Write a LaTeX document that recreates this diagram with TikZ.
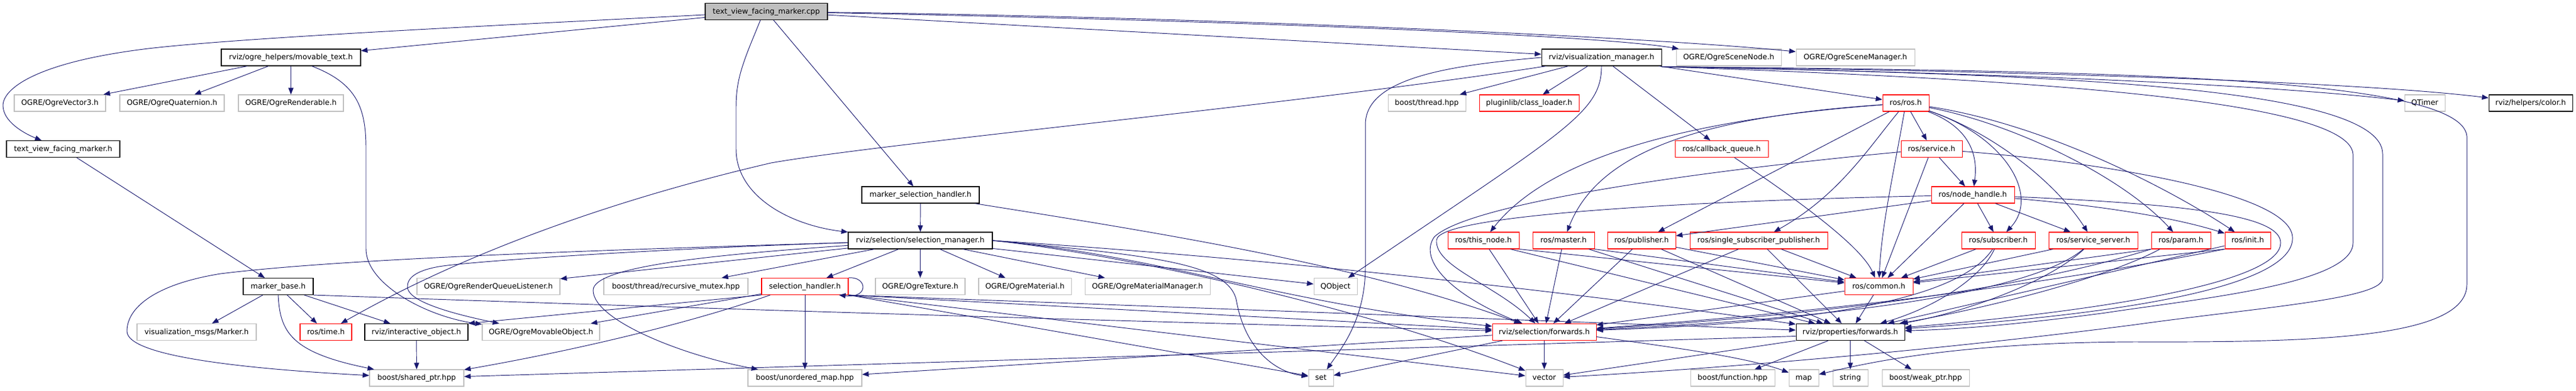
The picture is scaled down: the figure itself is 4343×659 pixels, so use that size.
\documentclass[tikz,border=0pt]{standalone}
\usepackage{fontspec}
\setmainfont{DejaVu Sans}
\usetikzlibrary{arrows.meta}
\definecolor{edgec}{HTML}{191970}
\definecolor{grayb}{HTML}{BFBFBF}
\definecolor{redb}{HTML}{FF0000}
\newcommand\mkbox[6]{\node[#1, minimum width=#5pt] (#2) at (#3,#4) {#6};}
\begin{document}
\begin{tikzpicture}[x=1pt,y=-1pt,
 nbox/.style={draw, line width=1.05pt, fill=white, minimum height=28pt, inner sep=0pt,
   text height=9.5pt, text depth=2.5pt, font=\fontsize{12.5}{15}\selectfont},
 bbox/.style={nbox, draw=black},
 rbox/.style={nbox, draw=redb},
 gbox/.style={nbox, draw=grayb},
 fbox/.style={nbox, draw=black, fill=grayb},
 dep/.style={draw=edgec, line width=0.95pt, -{Triangle[length=11pt,width=8.5pt]}}]
\fill[white] (0,0) rectangle (4343,659);
\path[use as bounding box] (0,0) rectangle (4343,659);

% ---------- nodes ----------
\mkbox{fbox}{cpp}{1292}{19.5}{206}{text\_view\_facing\_marker.cpp}
\mkbox{bbox}{movtext}{490.5}{97}{235}{rviz/ogre\_helpers/movable\_text.h}
\mkbox{bbox}{vizmgr}{2700}{97}{202}{rviz/visualization\_manager.h}
\mkbox{gbox}{scenenode}{2914.5}{97}{177}{OGRE/OgreSceneNode.h}
\mkbox{gbox}{scenemgr}{3128}{97}{200}{OGRE/OgreSceneManager.h}
\mkbox{gbox}{vecthree}{101}{174}{154}{OGRE/OgreVector3.h}
\mkbox{gbox}{quat}{290}{174}{176}{OGRE/OgreQuaternion.h}
\mkbox{gbox}{rend}{490.5}{174}{177}{OGRE/OgreRenderable.h}
\mkbox{gbox}{thread}{2405.5}{174}{131}{boost/thread.hpp}
\mkbox{rbox}{classloader}{2578}{174}{168}{pluginlib/class\_loader.h}
\mkbox{rbox}{rosh}{3213}{174}{78}{ros/ros.h}
\mkbox{gbox}{qtimer}{4088}{174}{68}{QTimer}
\mkbox{bbox}{color}{4266.5}{174}{141}{rviz/helpers/color.h}
\mkbox{bbox}{tvfmh}{106.5}{251.5}{191}{text\_view\_facing\_marker.h}
\mkbox{rbox}{cbq}{2902.5}{251.5}{157}{ros/callback\_queue.h}
\mkbox{rbox}{service}{3256.5}{251.5}{103}{ros/service.h}
\mkbox{bbox}{msh}{1552}{329}{198}{marker\_selection\_handler.h}
\mkbox{rbox}{nodehandle}{3326}{329}{140}{ros/node\_handle.h}
\mkbox{bbox}{selmgr}{1551.5}{406}{243}{rviz/selection/selection\_manager.h}
\mkbox{rbox}{thisnode}{2501}{406}{120}{ros/this\_node.h}
\mkbox{rbox}{master}{2636}{406}{104}{ros/master.h}
\mkbox{rbox}{publisher}{2767.5}{406}{115}{ros/publisher.h}
\mkbox{rbox}{ssp}{2965}{406}{232}{ros/single\_subscriber\_publisher.h}
\mkbox{rbox}{subscriber}{3369}{406}{124}{ros/subscriber.h}
\mkbox{rbox}{srvserver}{3529}{406}{150}{ros/service\_server.h}
\mkbox{rbox}{param}{3677}{406}{100}{ros/param.h}
\mkbox{rbox}{init}{3789.5}{406}{77}{ros/init.h}
\mkbox{bbox}{markerbase}{469}{483.5}{118}{marker\_base.h}
\mkbox{gbox}{rqlistener}{823.5}{483.5}{241}{OGRE/OgreRenderQueueListener.h}
\mkbox{gbox}{recmutex}{1139.5}{483.5}{243}{boost/thread/recursive\_mutex.hpp}
\mkbox{rbox}{selhandler}{1357}{483.5}{146}{selection\_handler.h}
\mkbox{gbox}{texture}{1551.5}{483.5}{151}{OGRE/OgreTexture.h}
\mkbox{gbox}{material}{1728}{483.5}{156}{OGRE/OgreMaterial.h}
\mkbox{gbox}{matmgr}{1934.5}{483.5}{211}{OGRE/OgreMaterialManager.h}
\mkbox{gbox}{qobject}{2251.5}{483.5}{73}{QObject}
\mkbox{rbox}{common}{3167.5}{483.5}{115}{ros/common.h}
\mkbox{gbox}{markermsg}{331.5}{560.5}{201}{visualization\_msgs/Marker.h}
\mkbox{rbox}{rostime}{549.5}{560.5}{87}{ros/time.h}
\mkbox{bbox}{interactive}{702}{560.5}{174}{rviz/interactive\_object.h}
\mkbox{gbox}{movable}{912}{560.5}{198}{OGRE/OgreMovableObject.h}
\mkbox{rbox}{selfwd}{2603.5}{560.5}{175}{rviz/selection/forwards.h}
\mkbox{bbox}{propfwd}{3119.5}{560.5}{183}{rviz/properties/forwards.h}
\mkbox{gbox}{sharedptr}{702.5}{638}{159}{boost/shared\_ptr.hpp}
\mkbox{gbox}{unordered}{1357}{638}{192}{boost/unordered\_map.hpp}
\mkbox{gbox}{set}{2227}{638}{42}{set}
\mkbox{gbox}{vector}{2603.5}{638}{63}{vector}
\mkbox{gbox}{function}{2921}{638}{142}{boost/function.hpp}
\mkbox{gbox}{map}{3041}{638}{50}{map}
\mkbox{gbox}{string}{3119.5}{638}{59}{string}
\mkbox{gbox}{weakptr}{3246.5}{638}{147}{boost/weak\_ptr.hpp}

% ---------- edges: text_view_facing_marker.cpp ----------
\draw[dep] (cpp) .. controls (900,40) and (420,62) .. (250,82) .. controls (60,105) and (5,150) .. (5,178) .. controls (5,205) and (40,225) .. (tvfmh);
\draw[dep] (cpp) -- (movtext);
\draw[dep] (cpp) -- (vizmgr);
\draw[dep] (cpp) .. controls (2100,35) and (2700,60) .. (scenenode);
\draw[dep] (cpp) .. controls (2000,28) and (2750,60) .. (scenemgr);
\draw[dep] ([xshift=-10pt]cpp.south) .. controls (1255,100) and (1241,130) .. (1241,180) -- (1241,252) .. controls (1241,330) and (1330,380) .. (selmgr);
\draw[dep] (cpp) -- (msh);

% ---------- text_view_facing_marker.h / movable_text.h ----------
\draw[dep] (tvfmh) -- (markerbase);
\draw[dep] (movtext) -- (vecthree);
\draw[dep] (movtext) -- (quat);
\draw[dep] (movtext) -- (rend);
\draw[dep] ([xshift=35pt]movtext.south) .. controls (600,140) and (617,180) .. (617,250) -- (617,420) .. controls (617,480) and (720,535) .. (movable);

% ---------- marker_base.h ----------
\draw[dep] (markerbase) -- (markermsg);
\draw[dep] (markerbase) -- (rostime);
\draw[dep] (markerbase) -- (interactive);
\draw[dep] (markerbase.south) .. controls (472,560) and (490,595) .. (sharedptr);
\draw[dep] (markerbase.south east) .. controls (1300,525) and (2000,545) .. (selfwd);
\draw[dep] (interactive) -- (sharedptr);

% ---------- visualization_manager.h ----------
\draw[dep] (vizmgr) -- (thread);
\draw[dep] (vizmgr) -- (classloader);
\draw[dep] (vizmgr) -- (cbq);
\draw[dep] (vizmgr) -- (rosh);
\draw[dep] (vizmgr.south) .. controls (2700,190) and (2640,220) .. (qobject);
\draw[dep] (vizmgr.west) .. controls (2450,110) and (2302,130) .. (2302,210) -- (2302,450) .. controls (2302,540) and (2260,590) .. (set);
\draw[dep] (vizmgr) .. controls (2200,175) and (1500,240) .. (1300,275) .. controls (1000,345) and (760,440) .. (rostime);
\draw[dep] ([yshift=-1pt]vizmgr.south east) .. controls (3300,122) and (3800,140) .. (qtimer);
\draw[dep] ([yshift=-1pt]vizmgr.south east) .. controls (3300,118) and (3950,135) .. (color);
\draw[dep] ([yshift=-1pt]vizmgr.south east) .. controls (3500,120) and (4150,125) .. (4159,230) -- (4159,480) .. controls (4159,572) and (3900,578) .. (3600,577) .. controls (3300,578) and (3150,612) .. (map);
\draw[dep] ([yshift=-1pt]vizmgr.south east) .. controls (3400,125) and (4017,140) .. (4017,260) -- (4017,470) .. controls (4017,505) and (3800,520) .. (3600,548) .. controls (3200,600) and (2800,628) .. (vector);
\draw[dep] ([yshift=-1pt]vizmgr.south east) .. controls (3300,130) and (3960,160) .. (3967,260) -- (3967,410) .. controls (3967,480) and (3700,505) .. (3550,528) .. controls (3400,548) and (3300,556) .. (propfwd);

% ---------- ros/ros.h ----------
\draw[dep] (rosh) .. controls (2800,205) and (2600,280) .. (thisnode);
\draw[dep] (rosh) .. controls (2830,200) and (2690,270) .. (master);
\draw[dep] (rosh) -- (publisher);
\draw[dep] (rosh) .. controls (3150,250) and (3100,330) .. (ssp);
\draw[dep] (rosh) .. controls (3195,280) and (3172,380) .. (common);
\draw[dep] (rosh) -- (service);
\draw[dep] (rosh) .. controls (3320,215) and (3335,260) .. (nodehandle);
\draw[dep] (rosh) .. controls (3380,230) and (3440,330) .. (subscriber);
\draw[dep] (rosh) .. controls (3350,220) and (3460,300) .. (srvserver);
\draw[dep] (rosh) .. controls (3400,210) and (3580,300) .. (param);
\draw[dep] (rosh) .. controls (3450,210) and (3660,320) .. (init);

% ---------- ros/service.h ----------
\draw[dep] (service) -- (nodehandle);
\draw[dep] (service) -- (common);
\draw[dep] (service) .. controls (2900,285) and (2480,340) .. (2418,400) .. controls (2390,440) and (2450,500) .. (selfwd);
\draw[dep] (service) .. controls (3500,270) and (3860,320) .. (3865,400) .. controls (3870,480) and (3600,530) .. (propfwd);

% ---------- ros/node_handle.h ----------
\draw[dep] (nodehandle) -- (subscriber);
\draw[dep] (nodehandle) -- (srvserver);
\draw[dep] (nodehandle) -- (common);
\draw[dep] (nodehandle) -- (publisher);
\draw[dep] (nodehandle) .. controls (2900,338) and (2425,360) .. (2422,405) .. controls (2418,450) and (2520,480) .. (selfwd);
\draw[dep] (nodehandle) .. controls (3600,352) and (3700,378) .. (init);
\draw[dep] (nodehandle) .. controls (3700,345) and (3845,365) .. (3845,410) .. controls (3845,470) and (3600,520) .. (propfwd);

% ---------- ros/subscriber.h ----------
\draw[dep] (subscriber) -- (common);
\draw[dep] (subscriber) .. controls (3340,470) and (3260,520) .. (propfwd);
\draw[dep] (subscriber) .. controls (3300,510) and (3050,545) .. (selfwd);

% ---------- ros/this_node.h, master.h, publisher.h, single_subscriber_publisher.h ----------
\draw[dep] (thisnode) -- (selfwd);
\draw[dep] (thisnode.south east) -- (common);
\draw[dep] ([xshift=-15pt]thisnode.south east) -- (propfwd);
\draw[dep] (master) -- (selfwd);
\draw[dep] (master.south east) -- (common);
\draw[dep] ([xshift=-10pt]master.south east) -- (propfwd);
\draw[dep] (publisher) -- (selfwd);
\draw[dep] (publisher) -- (common);
\draw[dep] (publisher) -- (propfwd);
\draw[dep] (ssp) -- (common);
\draw[dep] (ssp) -- (propfwd);
\draw[dep] (ssp) -- (selfwd);

% ---------- ros/service_server.h, param.h, init.h, callback_queue.h ----------
\draw[dep] (srvserver) -- (common);
\draw[dep] (srvserver) .. controls (3450,480) and (3300,530) .. (propfwd);
\draw[dep] (srvserver) .. controls (3420,500) and (3050,540) .. (selfwd);
\draw[dep] (param.south west) -- (common);
\draw[dep] ([xshift=15pt]param.south west) .. controls (3550,470) and (3350,520) .. (propfwd);
\draw[dep] (param.south west) .. controls (3420,485) and (3100,530) .. (selfwd);
\draw[dep] (init.south west) -- (common);
\draw[dep] (init.south west) .. controls (3450,480) and (3100,525) .. (selfwd);
\draw[dep] (init) -- (propfwd);
\draw[dep] (cbq) .. controls (3050,350) and (3140,420) .. (common);

% ---------- ros/common.h ----------
\draw[dep] (common) -- (propfwd);
\draw[dep] (common) -- (selfwd);

% ---------- rviz/selection/forwards.h ----------
\draw[dep] (selfwd) -- (vector);
\draw[dep] (selfwd) -- (set);
\draw[dep] (selfwd) -- (unordered);
\draw[dep] ([yshift=-8pt]selfwd.east) .. controls (2850,590) and (2950,605) .. (map);

% ---------- rviz/properties/forwards.h ----------
\draw[dep] (propfwd) -- (function);
\draw[dep] (propfwd) -- (string);
\draw[dep] (propfwd) -- (weakptr);
\draw[dep] (propfwd.south west) -- (vector);
\draw[dep] ([yshift=-7pt]propfwd.west) -- (sharedptr);

% ---------- marker_selection_handler.h ----------
\draw[dep] (msh) -- (selmgr);
\draw[dep] (msh) .. controls (2000,400) and (2300,450) .. (selfwd);

% ---------- selection_manager.h ----------
\draw[dep] (selmgr) -- (selhandler);
\draw[dep] (selmgr) -- (texture);
\draw[dep] (selmgr) -- (material);
\draw[dep] (selmgr) -- (matmgr);
\draw[dep] (selmgr) -- (rqlistener);
\draw[dep] (selmgr) -- (recmutex);
\draw[dep] (selmgr) .. controls (900,425) and (550,440) .. (372,462) .. controls (260,480) and (214,520) .. (214,559) .. controls (214,600) and (400,622) .. (sharedptr);
\draw[dep] (selmgr) .. controls (1200,430) and (1000,450) .. (1000,490) .. controls (1000,540) and (1150,600) .. (unordered);
\draw[dep] (selmgr) .. controls (1150,418) and (800,440) .. (740,450) .. controls (700,457) and (686,470) .. (687,485) .. controls (688,505) and (740,525) .. (movable);
\draw[dep] (selmgr) -- (qobject);
\draw[dep] (selmgr.east) .. controls (1950,430) and (2150,510) .. (selfwd);
\draw[dep] (selmgr.east) .. controls (2200,440) and (2700,500) .. (propfwd);
\draw[dep] (selmgr.east) .. controls (1900,430) and (2300,520) .. (vector);
\draw[dep] (selmgr.east) .. controls (1950,432) and (2075,445) .. (2085,510) .. controls (2100,590) and (2150,628) .. (set);

% ---------- selection_handler.h ----------
\draw[dep] (selhandler.north east) .. controls (1462,466) and (1466,504) .. ([xshift=-16pt]selhandler.south east);
\draw[dep] (selhandler) -- (unordered);
\draw[dep] (selhandler.south west) -- (interactive.north east);
\draw[dep] (selhandler) -- (movable);
\draw[dep] ([xshift=15pt]selhandler.south west) .. controls (1150,550) and (950,595) .. (sharedptr);
\draw[dep] (selhandler.south east) -- (set);
\draw[dep] (selhandler.south east) -- (vector);
\draw[dep] (selhandler.south east) -- (selfwd);
\draw[dep] (selhandler.south east) -- (propfwd);
\end{tikzpicture}
\end{document}
